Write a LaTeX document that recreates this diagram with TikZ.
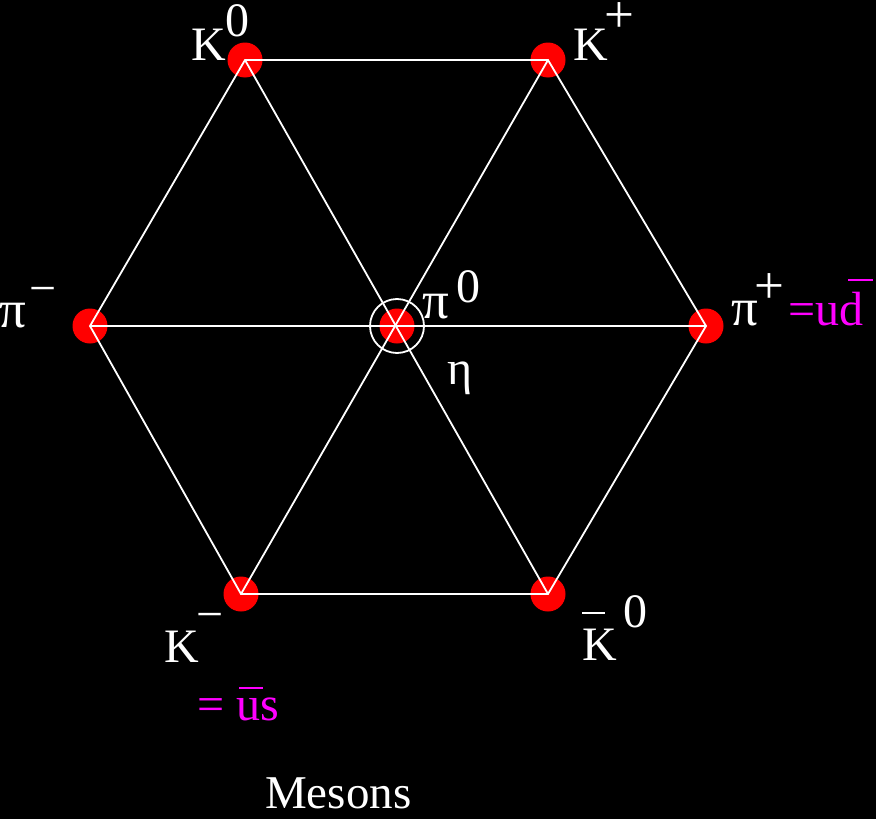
\documentclass[tikz,border=0pt]{standalone}
\usepackage{fontspec}
\setmainfont{Liberation Serif}
\definecolor{mag}{RGB}{255,0,255}
\begin{document}
\begin{tikzpicture}[x=1pt,y=-1pt,
  edge/.style={draw=white,line width=1.8pt},
  dot/.style={circle,fill=red,minimum size=35pt,inner sep=0pt},
  lbl/.style={text=white,inner sep=0pt,font=\fontsize{48}{50}\selectfont},
  big/.style={font=\fontsize{53}{55}\selectfont},
  mlbl/.style={text=mag,inner sep=0pt,font=\fontsize{48}{50}\selectfont},
  tight/.style={text height=#1,text depth=0pt}]
\fill[black] (0,0) rectangle (876,819);
\useasboundingbox (0,0) rectangle (876,819);
% vertices
\node[dot] (K0) at (245,60) {};
\node[dot] (Kp) at (548,60) {};
\node[dot] (pip) at (706,326) {};
\node[dot] (Kb0) at (548,594) {};
\node[dot] (Km) at (241,594) {};
\node[dot] (pim) at (90,326) {};
\node[dot] (c) at (397,326) {};
% edges
\draw[edge] (K0.center) -- (Kp.center) -- (pip.center) -- (Kb0.center) -- (Km.center) -- (pim.center) -- cycle;
\draw[edge] (K0.center) -- (Kb0.center);
\draw[edge] (Kp.center) -- (Km.center);
\draw[edge] (pim.center) -- (pip.center);
\draw[edge] (c.center) circle[radius=27];
% labels
\node[lbl,anchor=base west] (tK0) at (191,60) {K};
\node[lbl,anchor=base west,tight=32pt] (tK0s) at (225,36) {0};
\node[lbl,anchor=base west] (tKp) at (573,60) {K};
\node[lbl,big,anchor=base,tight=22pt] (tKps) at (619,32) {+};
\node[lbl,big,anchor=base west] (tpim) at (-1,327) {π};
\node[lbl,anchor=base] (tpims) at (43,304) {−};
\node[lbl,big,anchor=base west] (tpi0) at (422,318) {π};
\node[lbl,anchor=base west] (tpi0s) at (456,302) {0};
\node[lbl,anchor=base west] (teta) at (447,384) {η};
\node[lbl,big,anchor=base west] (tpip) at (731,325) {π};
\node[lbl,big,anchor=base] (tpips) at (769,303) {+};
\node[mlbl,anchor=base west] (tud) at (788,325) {=ud};
\draw[mag,line width=2pt] (848,280) -- (873,280);
\node[lbl,anchor=base west] (tKm) at (164,662) {K};
\node[lbl,anchor=base] (tKms) at (210,630) {−};
\node[mlbl,anchor=base west] (tus) at (197,720) {= us};
\draw[mag,line width=2pt] (239,688) -- (263,688);
\node[lbl,anchor=base west] (tKb0) at (582,660) {K};
\draw[white,line width=2pt] (582,613) -- (605,613);
\node[lbl,anchor=base west] (tKb0s) at (623,627) {0};
\node[lbl,anchor=base west,font=\fontsize{47}{48}\selectfont,tight=30pt] (tmes) at (265,808) {Mesons};
\end{tikzpicture}
\end{document}
